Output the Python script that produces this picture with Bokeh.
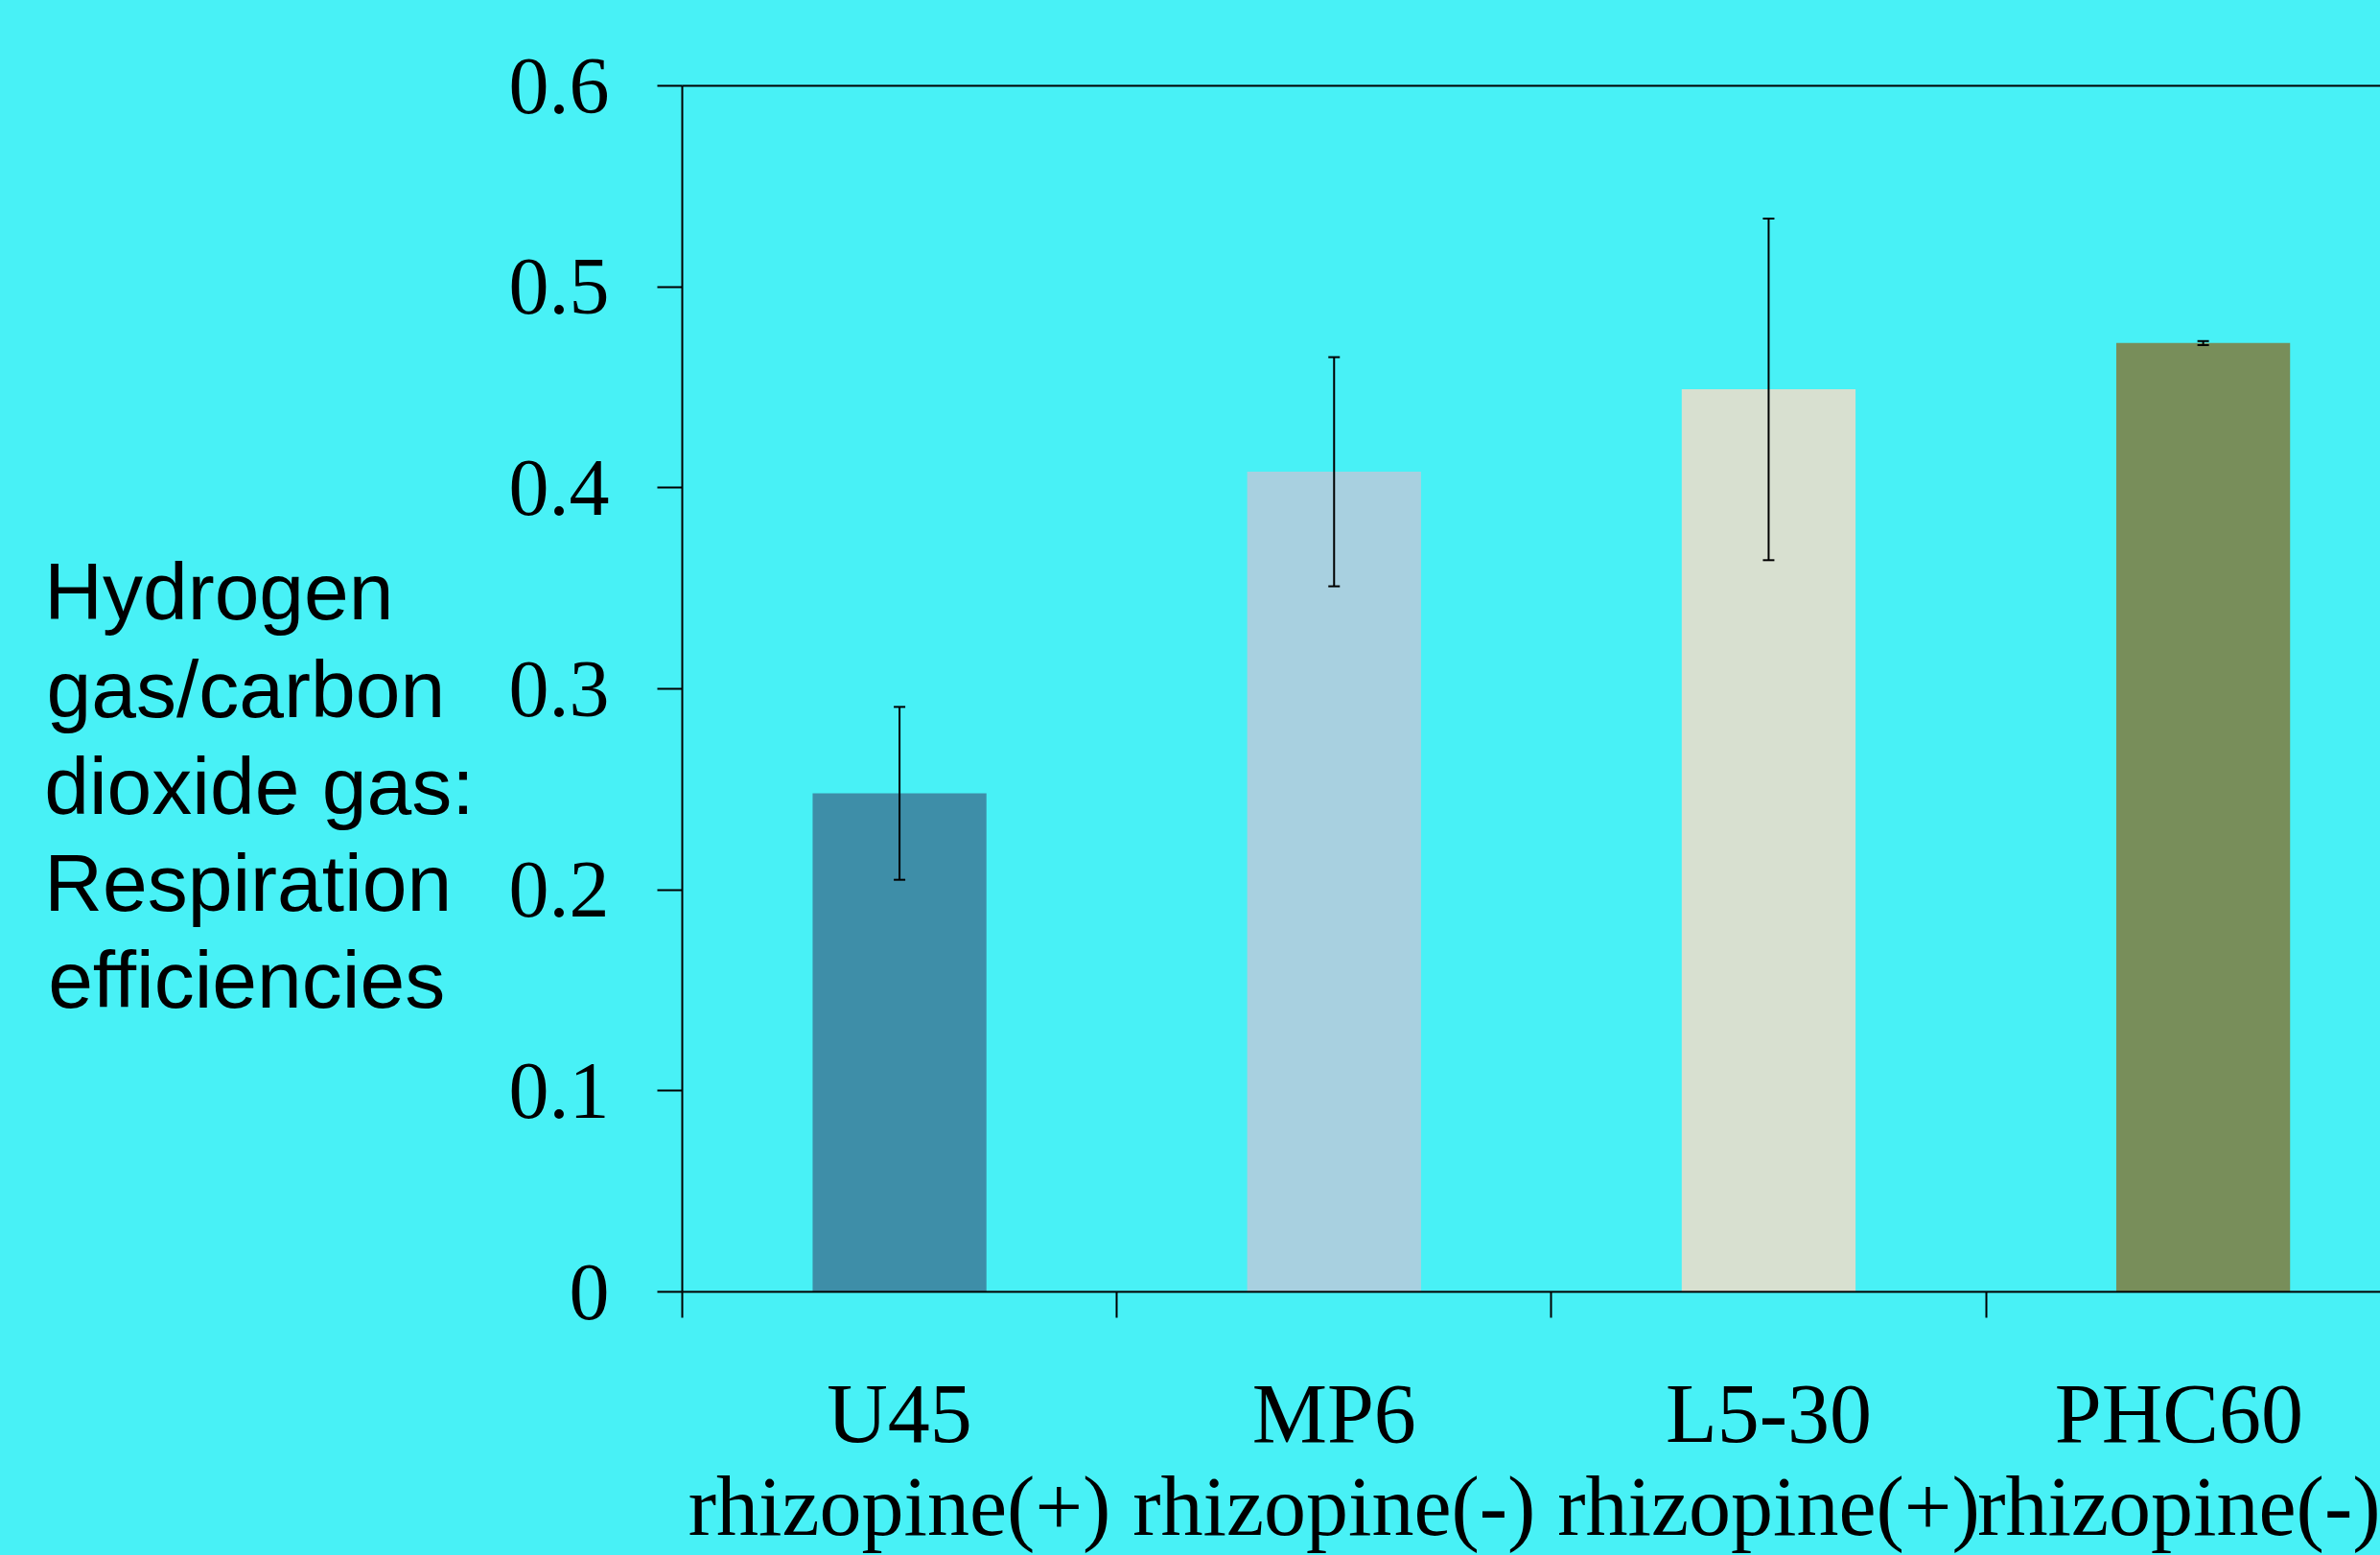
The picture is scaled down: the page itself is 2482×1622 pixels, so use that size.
from bokeh.plotting import figure
from bokeh.models import (ColumnDataSource, Range1d, LinearAxis, FixedTicker,
                          Whisker, TeeHead)
from bokeh.embed import file_html
from bokeh.resources import INLINE

# ---- data ----
strains = ["U45", "MP6", "L5-30", "PHC60"]
rhizopine = ["rhizopine(+)", "rhizopine(-)", "rhizopine(+)", "rhizopine(-)"]
efficiency = [0.248, 0.408, 0.449, 0.472]
error = [0.043, 0.057, 0.085, 0.001]
bar_colors = ["#3E8EA8", "#A8D0E0", "#D8E0D0", "#788E5A"]
y_ticks = [0, 0.1, 0.2, 0.3, 0.4, 0.5, 0.6]
y_tick_labels = ["0", "0.1", "0.2", "0.3", "0.4", "0.5", "0.6"]
y_title_lines = ["Hydrogen", "gas/carbon", "dioxide gas:", "Respiration", "efficiencies"]
# trailing padding so that the (right-anchored) title lines start flush left
y_title_pad = ["\u2003", "\u00a0\u200a", "", "\u00a0", "\u00a0\u200a"]

BG = "#48F1F6"

xpos = [i + 0.5 for i in range(len(strains))]
bounds = [float(i) for i in range(len(strains))]
src = ColumnDataSource(dict(
    x=xpos, top=efficiency, color=bar_colors,
    upper=[v + e for v, e in zip(efficiency, error)],
    lower=[v - e for v, e in zip(efficiency, error)],
))

p = figure(width=2482, height=1622, output_backend="svg", toolbar_location=None,
           x_range=Range1d(0, 3.908), y_range=Range1d(0, 0.6),
           x_axis_location=None, y_axis_location=None,
           min_border_left=711, min_border_right=0,
           min_border_top=89, min_border_bottom=273)
p.background_fill_color = BG
p.border_fill_color = BG
p.outline_line_color = None
p.xgrid.visible = False
p.ygrid.visible = False

p.vbar(x="x", top="top", width=0.4, bottom=0, source=src,
       fill_color="color", line_color=None)

wh = Whisker(source=src, base="x", upper="upper", lower="lower",
             dimension="height", line_color="black", line_width=2, level="overlay",
             upper_head=TeeHead(size=12, line_width=2, line_color="black"),
             lower_head=TeeHead(size=12, line_width=2, line_color="black"))
p.add_layout(wh)

# left axis
yax = LinearAxis(ticker=FixedTicker(ticks=y_ticks, minor_ticks=[]))
yax.major_label_overrides = {t: l for t, l in zip(y_ticks, y_tick_labels)}
yax.axis_line_width = 2
yax.axis_line_color = "black"
yax.major_tick_line_width = 2
yax.major_tick_out = 26
yax.major_tick_in = 0
yax.minor_tick_out = 0
yax.major_label_standoff = 50
yax.major_label_text_font = "Liberation Serif"
yax.major_label_text_font_size = "84px"
yax.major_label_text_color = "black"
yax.axis_label = "\n\n" + "\n".join(l + pad for l, pad in zip(y_title_lines, y_title_pad))
yax.axis_label_orientation = "horizontal"
yax.axis_label_standoff = 33
yax.axis_label_text_font = "Liberation Sans"
yax.axis_label_text_font_style = "normal"
yax.axis_label_text_font_size = "84px"
yax.axis_label_text_line_height = 1.076
yax.axis_label_text_color = "black"
p.add_layout(yax, "left")

# bottom axis: labels at category centres, ticks at category boundaries
xax = LinearAxis(ticker=FixedTicker(ticks=xpos, minor_ticks=bounds))
xax.major_label_overrides = {x: s + "\n" + r for x, s, r in zip(xpos, strains, rhizopine)}
xax.axis_line_width = 2
xax.axis_line_color = "black"
xax.major_tick_out = 0
xax.major_tick_in = 0
xax.minor_tick_out = 27
xax.minor_tick_in = 0
xax.minor_tick_line_width = 2
xax.minor_tick_line_color = "black"
xax.major_label_standoff = 51
xax.major_label_text_font = "Liberation Serif"
xax.major_label_text_font_size = "88px"
xax.major_label_text_line_height = 1.0
xax.major_label_text_color = "black"
p.add_layout(xax, "below")

# top line
tax = LinearAxis(ticker=FixedTicker(ticks=[], minor_ticks=[]))
tax.axis_line_width = 2
tax.axis_line_color = "black"
tax.major_tick_out = 0
tax.major_tick_in = 0
tax.minor_tick_out = 0
tax.major_label_text_font_size = "0px"
tax.major_label_standoff = 0
p.add_layout(tax, "above")

html = file_html(p, INLINE)
html = html.replace("<head>", "<head><style>html,body{background:%s;}</style>" % BG, 1)
open("out.html", "w").write(html)
